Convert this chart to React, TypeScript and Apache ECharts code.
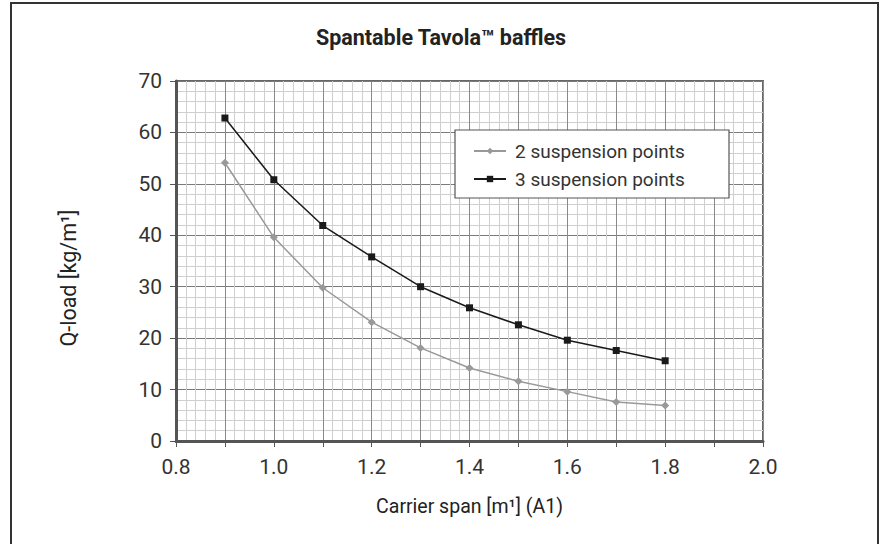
import React, { useEffect, useRef } from "react";
import * as echarts from "echarts";

const spans = [0.9, 1.0, 1.1, 1.2, 1.3, 1.4, 1.5, 1.6, 1.7, 1.8];
const twoPoints = [54.1, 39.6, 29.8, 23.1, 18.1, 14.2, 11.6, 9.6, 7.6, 6.9];
const threePoints = [62.8, 50.8, 41.9, 35.8, 30.0, 25.9, 22.6, 19.6, 17.6, 15.6];
const seriesNames = ["2 suspension points", "3 suspension points"];
const titleText = "Spantable Tavola™ baffles";
const xName = "Carrier span [m¹] (A1)";
const yName = "Q-load [kg/m¹]";

const FONT = "'Roboto', 'Liberation Sans', sans-serif";

export default function App() {
  const ref = useRef<HTMLDivElement>(null);
  useEffect(() => {
    if (!ref.current) return;
    const chart = echarts.init(ref.current, undefined, { renderer: "svg" });
    const pair = (ys: number[]) => spans.map((x, i) => [x, ys[i]]);
    chart.setOption({
      animation: false,
      backgroundColor: "#fff",
      title: {
        text: titleText,
        left: "center",
        top: 21,
        textStyle: { fontFamily: FONT, fontSize: 21.5, fontWeight: "bold", color: "#222" },
      },
      graphic: [
        {
          type: "polyline",
          shape: { points: [[11, 548], [11, 3], [878, 3], [878, 548]] },
          style: { stroke: "#333", lineWidth: 2, fill: "none" },
          z: 0,
        },
        {
          type: "rect",
          shape: { x: 455, y: 130, width: 274, height: 68 },
          style: { fill: "#fff", stroke: "#555", lineWidth: 1.2 },
          z: 5,
        },
        {
          type: "text",
          x: 68,
          y: 278,
          rotation: Math.PI / 2,
          style: {
            text: yName,
            fontFamily: FONT,
            fontSize: 21.5,
            fill: "#222",
            textAlign: "center",
            textVerticalAlign: "middle",
          },
          z: 5,
        },
      ],
      legend: {
        left: 468,
        top: 135,
        orient: "vertical",
        itemWidth: 32,
        itemHeight: 8,
        itemGap: 6,
        z: 10,
        textStyle: { fontFamily: FONT, fontSize: 19, color: "#333", lineHeight: 22, padding: [0, 0, 0, 4] },
        data: seriesNames,
      },
      grid: {
        left: 176,
        top: 81,
        width: 587,
        height: 360,
        show: true,
        borderColor: "#666",
        borderWidth: 2,
        backgroundColor: "transparent",
      },
      xAxis: {
        type: "value",
        min: 0.8,
        max: 2.0,
        interval: 0.1,
        name: xName,
        nameLocation: "middle",
        nameGap: 55,
        nameTextStyle: { fontFamily: FONT, fontSize: 19.5, color: "#222" },
        axisLine: { show: true, lineStyle: { color: "#555", width: 3 } },
        axisTick: { show: true, length: 6, lineStyle: { color: "#555", width: 1 } },
        axisLabel: {
          margin: 15,
          fontFamily: FONT,
          fontSize: 21,
          color: "#333",
          formatter: (v: number) => (Math.round(v * 10) % 2 === 0 ? v.toFixed(1) : ""),
        },
        splitLine: { show: true, lineStyle: { color: "#8a8a8a", width: 1 } },
        minorTick: { show: false, splitNumber: 5 },
        minorSplitLine: { show: true, lineStyle: { color: "#cfcfcf", width: 1 } },
      },
      yAxis: {
        type: "value",
        min: 0,
        max: 70,
        interval: 10,
        axisLine: { show: true, lineStyle: { color: "#555", width: 3 } },
        axisTick: { show: true, length: 6, lineStyle: { color: "#555", width: 1 } },
        axisLabel: { margin: 14, fontFamily: FONT, fontSize: 21, color: "#333" },
        splitLine: { show: true, lineStyle: { color: "#7a7a7a", width: 1 } },
        minorTick: { show: false, splitNumber: 5 },
        minorSplitLine: { show: true, lineStyle: { color: "#cfcfcf", width: 1 } },
      },
      series: [
        {
          name: seriesNames[0],
          type: "line",
          data: pair(twoPoints),
          symbol: "diamond",
          symbolSize: 8,
          lineStyle: { color: "#999", width: 1.5 },
          itemStyle: { color: "#999" },
          z: 3,
        },
        {
          name: seriesNames[1],
          type: "line",
          data: pair(threePoints),
          symbol: "rect",
          symbolSize: 7,
          lineStyle: { color: "#1a1a1a", width: 1.5 },
          itemStyle: { color: "#1a1a1a" },
          z: 4,
        },
      ],
    });
    return () => chart.dispose();
  }, []);
  return (
    <div
      ref={ref}
      style={{ position: "fixed", left: 0, top: 0, width: 882, height: 544, background: "#fff" }}
    />
  );
}
